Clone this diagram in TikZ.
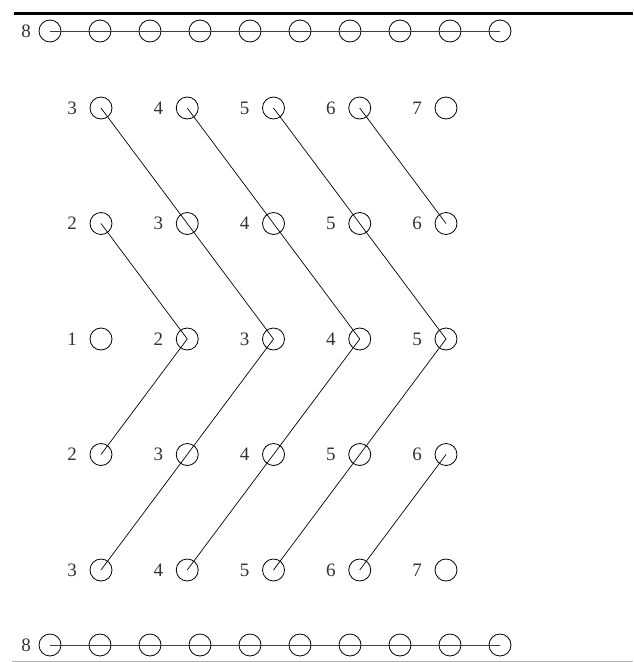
\documentclass[tikz,border=0pt]{standalone}
\usepackage{fontspec}
\setmainfont{Liberation Serif}
\begin{document}
\begin{tikzpicture}[x=1pt,y=-1pt,
  ring/.style={circle,draw=black,line width=0.8pt,minimum size=22pt,inner sep=0pt},
  num/.style={inner sep=0pt,font=\fontsize{19}{21}\selectfont,text=black!80},
  link/.style={draw=black,line width=0.7pt},
  rail/.style={draw=black!75,line width=1pt}]
\useasboundingbox (0,0) rectangle (633,662);
% top and bottom border lines
\coordinate (tl) at (14,13.5);
\coordinate (tr) at (633,13.5);
\coordinate (bl) at (12,661);
\coordinate (br) at (633,661);
\draw[line width=3pt] (tl) -- (tr);
\draw[black!30,line width=1pt] (bl) -- (br);
% top and bottom rows
\foreach \k in {0,...,9}{
  \node[ring] (t\k) at ({50+50*\k},31) {};
  \node[ring] (b\k) at ({50+50*\k},645) {};
}
\node[num] (t8) at (26,31) {8};
\node[num] (b8) at (26,645) {8};
\draw[rail] (t0.center) -- (t9.center);
\draw[rail] (b0.center) -- (b9.center);
% grid
\foreach \r in {0,...,4}{
  \foreach \c in {0,...,4}{
    \pgfmathtruncatemacro{\lab}{abs(\r-2)+\c+1}
    \node[ring] (c\c r\r) at ({101+86.25*\c},{108+115.5*\r}) {};
    \node[num] (l\c r\r) at ({101+86.25*\c-29},{108+115.5*\r}) {\lab};
  }
}
\draw[link] (c0r0.center) -- (c2r2.center) -- (c0r4.center);
\draw[link] (c0r1.center) -- (c1r2.center) -- (c0r3.center);
\draw[link] (c1r0.center) -- (c3r2.center) -- (c1r4.center);
\draw[link] (c2r0.center) -- (c4r2.center) -- (c2r4.center);
\draw[link] (c3r0.center) -- (c4r1.center);
\draw[link] (c4r3.center) -- (c3r4.center);
\end{tikzpicture}
\end{document}
